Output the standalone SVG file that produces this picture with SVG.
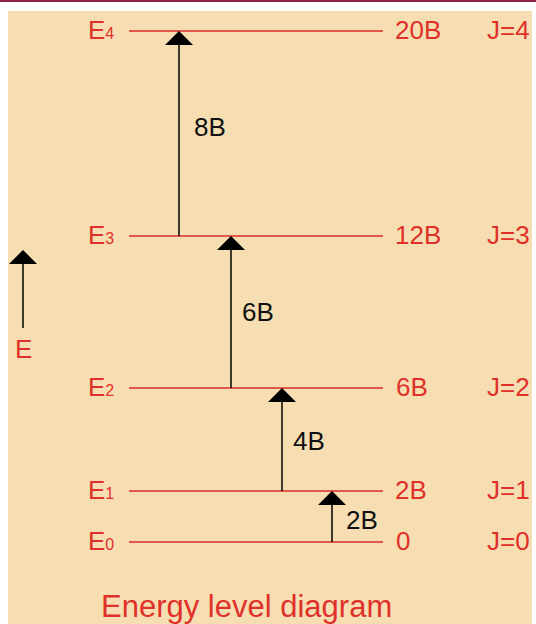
<svg xmlns="http://www.w3.org/2000/svg" width="536" height="624" viewBox="0 0 536 624">
  <style>
    .lvl { stroke: #dc2c26; stroke-width: 1.5; }
    .shaft { stroke: #000; stroke-width: 1.5; }
    .red { fill: #e0302a; font-family: "Liberation Sans", Arial, sans-serif; font-size: 26px; }
    .blk { fill: #111; font-family: "Liberation Sans", Arial, sans-serif; font-size: 26px; }
    .sub { font-size: 16px; }
    .title { fill: #e0302a; font-family: "Liberation Sans", Arial, sans-serif; font-size: 31px; }
  </style>
  <defs>
    <path id="head" d="M0,0 L14,14 L-14,14 Z" fill="#000"/>
  </defs>

  <!-- frame -->
  <rect x="0" y="0" width="536" height="624" fill="#ffffff"/>
  <rect x="8" y="11" width="524" height="613" fill="#f6deb2"/>
  <rect x="0" y="0" width="536" height="2" fill="#8c2240"/>

  <!-- energy levels -->
  <g id="level-E4">
    <line class="lvl" x1="129" y1="31" x2="383" y2="31"/>
    <text class="red" x="88" y="39">E<tspan class="sub">4</tspan></text>
    <text class="red" x="395" y="39">20B</text>
    <text class="red" x="487" y="39">J=4</text>
  </g>
  <g id="level-E3">
    <line class="lvl" x1="129" y1="236" x2="383" y2="236"/>
    <text class="red" x="88" y="244">E<tspan class="sub">3</tspan></text>
    <text class="red" x="395" y="244">12B</text>
    <text class="red" x="487" y="244">J=3</text>
  </g>
  <g id="level-E2">
    <line class="lvl" x1="129" y1="388" x2="383" y2="388"/>
    <text class="red" x="88" y="396">E<tspan class="sub">2</tspan></text>
    <text class="red" x="396" y="396">6B</text>
    <text class="red" x="487" y="396">J=2</text>
  </g>
  <g id="level-E1">
    <line class="lvl" x1="129" y1="491" x2="383" y2="491"/>
    <text class="red" x="88" y="499">E<tspan class="sub">1</tspan></text>
    <text class="red" x="395" y="499">2B</text>
    <text class="red" x="487" y="499">J=1</text>
  </g>
  <g id="level-E0">
    <line class="lvl" x1="129" y1="542" x2="383" y2="542"/>
    <text class="red" x="88" y="550">E<tspan class="sub">0</tspan></text>
    <text class="red" x="396" y="550">0</text>
    <text class="red" x="487" y="550">J=0</text>
  </g>

  <!-- transitions -->
  <g id="connectors">
    <line class="shaft" x1="179" y1="236" x2="179" y2="44"/>
    <use href="#head" x="179" y="31"/>
    <line class="shaft" x1="231" y1="388" x2="231" y2="249"/>
    <use href="#head" x="231" y="236"/>
    <line class="shaft" x1="282" y1="491" x2="282" y2="401"/>
    <use href="#head" x="282" y="388"/>
    <line class="shaft" x1="332" y1="542" x2="332" y2="504"/>
    <use href="#head" x="332" y="491"/>
    <line class="shaft" x1="23" y1="328" x2="23" y2="262"/>
    <use href="#head" x="23" y="250"/>
  </g>

  <g id="gap-labels">
    <text class="blk" x="194" y="136">8B</text>
    <text class="blk" x="242" y="321">6B</text>
    <text class="blk" x="293" y="450">4B</text>
    <text class="blk" x="346" y="529">2B</text>
  </g>

  <g id="axis-label">
    <text class="red" x="15" y="358">E</text>
  </g>

  <text class="title" x="101" y="617">Energy level diagram</text>
</svg>
